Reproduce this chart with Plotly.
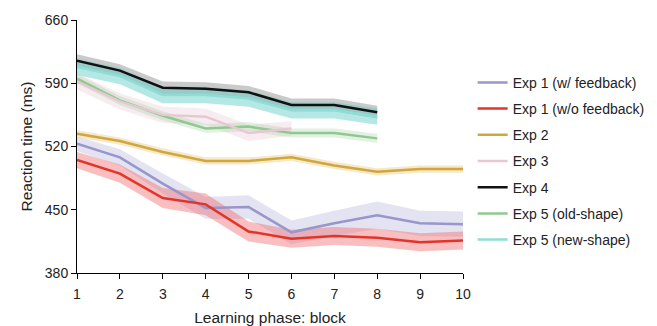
import plotly.graph_objects as go

blocks10 = [1, 2, 3, 4, 5, 6, 7, 8, 9, 10]
blocks8 = [1, 2, 3, 4, 5, 6, 7, 8]
blocks6 = [1, 2, 3, 4, 5, 6]

exp1_fb = [523, 508, 479, 452, 453, 425, 435, 444, 435, 434]
exp1_fb_ci = [8, 9, 11, 12, 13, 13, 14, 15, 14, 14]
exp1_nofb = [505, 490, 463, 456, 426, 418, 421, 419, 414, 416]
exp1_nofb_ci = [9, 10, 11, 12, 11, 10, 10, 10, 10, 10]
exp2 = [534, 526, 514, 504, 504, 508, 499, 492, 495, 495]
exp2_ci = [4, 4, 4, 4, 4, 4, 4, 4, 4, 4]
exp3 = [592, 570, 555, 553, 535, 540]
exp3_ci = [9, 9, 9, 9, 9, 8]
exp4 = [615, 604, 585, 584, 580, 566, 566, 558]
exp4_ci = [7, 7, 7, 7, 7, 7, 7, 7]
exp5_old = [595, 571, 554, 540, 542, 535, 535, 529]
exp5_old_ci = [5, 5, 5, 5, 5, 5, 5, 5]
exp5_new = [608, 598, 577, 577, 573, 560, 560, 553]
exp5_new_ci = [9, 9, 9, 9, 9, 9, 9, 9]

series = [
    ("Exp 1 (w/ feedback)", blocks10, exp1_fb, exp1_fb_ci, "#9896CB", "rgba(200,200,230,0.5)"),
    ("Exp 1 (w/o feedback)", blocks10, exp1_nofb, exp1_nofb_ci, "#E3342A", "rgba(240,110,115,0.45)"),
    ("Exp 2", blocks10, exp2, exp2_ci, "#D0A73A", "rgba(236,214,160,0.55)"),
    ("Exp 3", blocks6, exp3, exp3_ci, "#E6C8D4", "rgba(232,200,212,0.35)"),
    ("Exp 4", blocks8, exp4, exp4_ci, "#111111", "rgba(150,150,150,0.5)"),
    ("Exp 5 (old-shape)", blocks8, exp5_old, exp5_old_ci, "#90C890", "rgba(160,210,160,0.3)"),
    ("Exp 5 (new-shape)", blocks8, exp5_new, exp5_new_ci, "#8EDDD6", "rgba(90,205,195,0.45)"),
]

fig = go.Figure()

# confidence bands
for name, xs, ys, ci, lc, bc in series:
    upper = [y + c for y, c in zip(ys, ci)]
    lower = [y - c for y, c in zip(ys, ci)]
    fig.add_trace(go.Scatter(
        x=xs + xs[::-1], y=upper + lower[::-1], fill="toself", fillcolor=bc,
        line=dict(width=0), mode="lines", hoverinfo="skip", showlegend=False))

# mean lines, black drawn last so it sits on top
order = [6, 5, 3, 2, 0, 1, 4]
for idx in order:
    name, xs, ys, ci, lc, bc = series[idx]
    fig.add_trace(go.Scatter(
        x=xs, y=ys, mode="lines", name=name, line=dict(color=lc, width=2.5),
        legendgroup=name, legendrank=idx + 1))

font = "Liberation Sans, Arial, sans-serif"
fig.update_layout(
    width=657, height=326,
    margin=dict(l=77, r=194, t=20, b=53, autoexpand=False),
    paper_bgcolor="white", plot_bgcolor="white",
    font=dict(family=font, size=14, color="#222"),
    legend=dict(x=1.025, y=0.815, xanchor="left", yanchor="top",
                font=dict(size=14, family=font, color="#222"),
                tracegroupgap=5, traceorder="grouped", bgcolor="rgba(0,0,0,0)"),
    xaxis=dict(range=[1, 10], tickmode="array", tickvals=blocks10,
               ticks="outside", ticklen=5, tickcolor="black", showline=True,
               linecolor="black", linewidth=1, showgrid=False, zeroline=False,
               ticklabelstandoff=3, automargin=False,
               title=dict(text="Learning phase: block", standoff=12,
                          font=dict(size=15.5)),
               tickfont=dict(size=14)),
    yaxis=dict(range=[380, 660], tickmode="array", tickvals=[380, 450, 520, 590, 660],
               ticks="outside", ticklen=5, tickcolor="black", showline=True,
               linecolor="black", linewidth=1, showgrid=False, zeroline=False,
               automargin=False,
               title=dict(text="Reaction time (ms)", standoff=8,
                          font=dict(size=15.5)),
               tickfont=dict(size=14)),
)

fig.write_html("out.html")
